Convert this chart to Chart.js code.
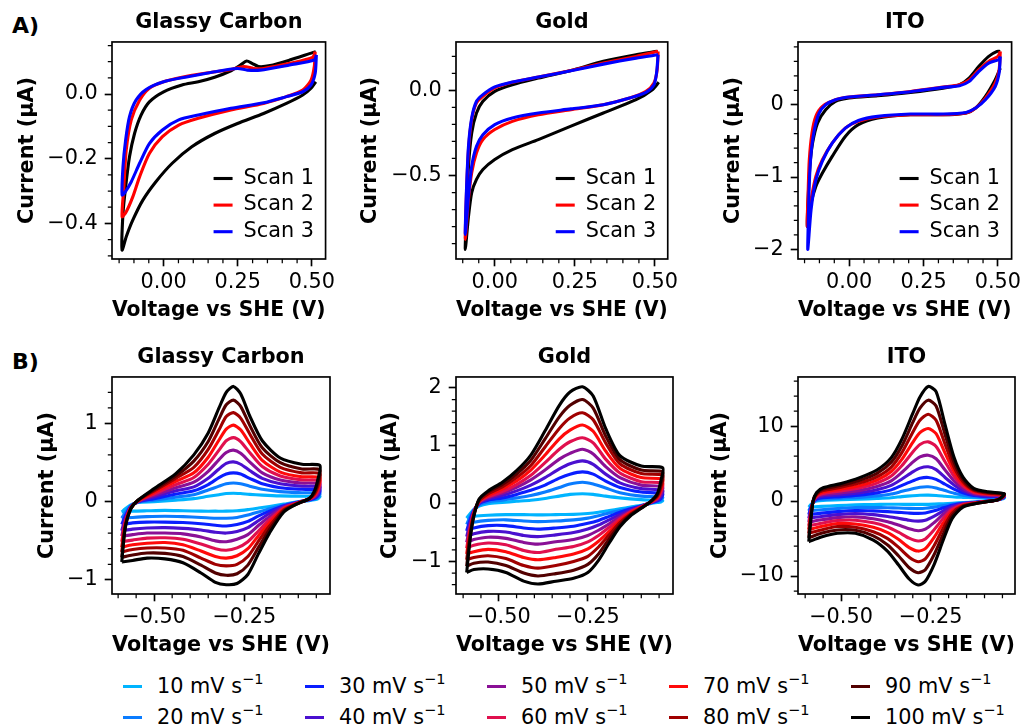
<!DOCTYPE html>
<html>
<head>
<meta charset="utf-8">
<script src="https://cdn.jsdelivr.net/npm/chart.js@4.4.1/dist/chart.umd.min.js"></script>
<style>
    body { margin: 0; width: 1025px; height: 726px; overflow: hidden; background: #fff; position: relative; font-family: 'DejaVu Sans', sans-serif; }
    canvas { position: absolute; }
    .panel-tag { position: absolute; left: 12px; font: bold 22px 'DejaVu Sans'; line-height: 22px; }
    .rate-handle { position: absolute; width: 19px; height: 3px; }
    .rate-text { position: absolute; font-size: 20.8px; line-height: 20px; white-space: nowrap; color: #000; }
    .rate-text sup { font-size: 14.5px; line-height: 0; vertical-align: 9px; }
</style>
</head>
<body>
<div class="panel-tag" style="top:15px">A)</div>
<div class="panel-tag" style="top:351px">B)</div>
<script>
// ---- Row A: three consecutive scans ----
const SCAN_LABELS = ['Scan 1', 'Scan 2', 'Scan 3'];
const SCAN_COLORS = ['#000000', '#ff0000', '#0000ff'];

// Glassy carbon
const gcScan1V = [0.513, 0.497, 0.469, 0.414, 0.337, 0.249, 0.172, 0.095, 0.029, -0.026, -0.070, -0.104, -0.126, -0.140, -0.137, -0.128, -0.115, -0.098, -0.076, -0.048, 0.0, 0.062, 0.117, 0.172, 0.227, 0.260, 0.280, 0.298, 0.320, 0.359, 0.425, 0.502, 0.513];
const gcScan1I = [0.038, 0.018, -0.003, -0.029, -0.060, -0.091, -0.122, -0.163, -0.214, -0.271, -0.328, -0.390, -0.441, -0.482, -0.369, -0.287, -0.194, -0.122, -0.065, -0.024, 0.007, 0.028, 0.038, 0.052, 0.072, 0.090, 0.102, 0.095, 0.085, 0.088, 0.105, 0.128, 0.131];
const gcScan2V = [0.511, 0.508, 0.497, 0.469, 0.414, 0.337, 0.227, 0.117, 0.051, -0.004, -0.048, -0.081, -0.104, -0.126, -0.140, -0.134, -0.126, -0.109, -0.081, -0.048, 0.0, 0.062, 0.139, 0.227, 0.271, 0.304, 0.337, 0.425, 0.502, 0.511];
const gcScan2I = [0.131, 0.085, 0.043, 0.012, -0.008, -0.029, -0.049, -0.075, -0.096, -0.132, -0.184, -0.256, -0.318, -0.364, -0.379, -0.287, -0.173, -0.080, -0.019, 0.018, 0.038, 0.052, 0.064, 0.076, 0.085, 0.079, 0.079, 0.095, 0.113, 0.131];
const gcScan3V = [0.515, 0.511, 0.497, 0.469, 0.414, 0.337, 0.227, 0.117, 0.051, -0.004, -0.048, -0.081, -0.109, -0.131, -0.140, -0.137, -0.128, -0.115, -0.093, -0.059, 0.0, 0.073, 0.172, 0.249, 0.282, 0.326, 0.425, 0.508, 0.515];
const gcScan3I = [0.121, 0.064, 0.028, 0.007, -0.008, -0.027, -0.044, -0.065, -0.080, -0.111, -0.153, -0.214, -0.271, -0.305, -0.312, -0.225, -0.142, -0.070, -0.019, 0.014, 0.038, 0.052, 0.069, 0.079, 0.074, 0.074, 0.090, 0.105, 0.121];

// Gold
const auScan1V = [0.512, 0.492, 0.441, 0.339, 0.238, 0.136, 0.055, 0.0, -0.037, -0.057, -0.072, -0.082, -0.092, -0.089, -0.082, -0.072, -0.057, -0.037, 0.0, 0.055, 0.136, 0.238, 0.339, 0.441, 0.507];
const auScan1I = [0.047, 0.004, -0.055, -0.133, -0.210, -0.289, -0.348, -0.406, -0.465, -0.523, -0.600, -0.740, -0.934, -0.740, -0.445, -0.250, -0.133, -0.064, -0.006, 0.033, 0.072, 0.117, 0.170, 0.209, 0.229];
const auScan2V = [0.510, 0.507, 0.497, 0.472, 0.421, 0.339, 0.238, 0.136, 0.055, 0.0, -0.037, -0.057, -0.072, -0.082, -0.092, -0.089, -0.082, -0.072, -0.057, -0.037, 0.0, 0.055, 0.136, 0.238, 0.339, 0.441, 0.510];
const auScan2I = [0.229, 0.121, 0.043, -0.006, -0.045, -0.084, -0.113, -0.143, -0.182, -0.230, -0.289, -0.367, -0.484, -0.640, -0.875, -0.640, -0.348, -0.172, -0.074, -0.035, 0.014, 0.047, 0.078, 0.117, 0.160, 0.199, 0.229];
const auScan3V = [0.510, 0.505, 0.497, 0.472, 0.421, 0.339, 0.238, 0.136, 0.055, 0.0, -0.037, -0.057, -0.072, -0.082, -0.092, -0.089, -0.082, -0.072, -0.057, -0.037, 0.0, 0.055, 0.136, 0.238, 0.339, 0.441, 0.510];
const auScan3I = [0.209, 0.100, 0.033, -0.012, -0.045, -0.084, -0.109, -0.133, -0.162, -0.201, -0.260, -0.328, -0.445, -0.620, -0.846, -0.620, -0.328, -0.162, -0.064, -0.025, 0.020, 0.049, 0.078, 0.115, 0.154, 0.189, 0.209];

// ITO
const itoScan1V = [0.508, 0.491, 0.458, 0.425, 0.393, 0.338, 0.206, 0.096, 0.031, -0.013, -0.057, -0.090, -0.112, -0.128, -0.141, -0.138, -0.132, -0.123, -0.106, -0.079, -0.046, 0.0, 0.096, 0.206, 0.316, 0.371, 0.404, 0.436, 0.469, 0.497, 0.508];
const itoScan1I = [0.507, 0.346, 0.115, -0.046, -0.115, -0.138, -0.138, -0.184, -0.276, -0.438, -0.714, -0.945, -1.130, -1.360, -1.680, -1.310, -0.850, -0.530, -0.250, -0.070, 0.046, 0.092, 0.124, 0.170, 0.230, 0.276, 0.370, 0.530, 0.668, 0.737, 0.737];
const itoScan2V = [0.508, 0.504, 0.491, 0.458, 0.425, 0.393, 0.316, 0.206, 0.096, 0.031, -0.013, -0.057, -0.090, -0.112, -0.128, -0.141, -0.138, -0.134, -0.125, -0.112, -0.090, -0.046, 0.0, 0.096, 0.206, 0.316, 0.371, 0.404, 0.436, 0.469, 0.500, 0.508];
const itoScan2I = [0.737, 0.484, 0.300, 0.092, -0.046, -0.115, -0.138, -0.138, -0.170, -0.230, -0.323, -0.530, -0.760, -0.990, -1.310, -1.680, -1.220, -0.760, -0.390, -0.160, -0.023, 0.069, 0.106, 0.138, 0.184, 0.244, 0.276, 0.346, 0.484, 0.599, 0.668, 0.737];
const itoScan3V = [0.508, 0.504, 0.491, 0.458, 0.425, 0.393, 0.316, 0.206, 0.096, 0.031, -0.013, -0.057, -0.090, -0.112, -0.128, -0.139, -0.137, -0.134, -0.128, -0.117, -0.101, -0.079, -0.046, 0.0, 0.096, 0.206, 0.316, 0.371, 0.404, 0.436, 0.469, 0.502, 0.508];
const itoScan3I = [0.668, 0.438, 0.253, 0.069, -0.046, -0.106, -0.129, -0.129, -0.161, -0.217, -0.323, -0.530, -0.780, -1.040, -1.450, -2.000, -1.540, -1.080, -0.670, -0.346, -0.115, 0.0, 0.069, 0.106, 0.138, 0.180, 0.240, 0.263, 0.323, 0.461, 0.576, 0.622, 0.668];

// ---- Row B: scan-rate series ----
const RATES = [10, 20, 30, 40, 50, 60, 70, 80, 90, 100];
const RATE_COLORS = ['#00b4ff', '#0a7cff', '#0a1eff', '#4a10d0', '#8a1096', '#e0104e', '#ff0a0a', '#a00000', '#520000', '#000000'];

// Glassy carbon: forward sweep (left to right) then reverse sweep (right to left)
const gcLoopV = [-0.59, -0.58, -0.565, -0.545, -0.50, -0.44, -0.39, -0.35, -0.32, -0.30, -0.28, -0.26, -0.235, -0.20, -0.15, -0.09, -0.04,
                 -0.045, -0.055, -0.07, -0.10, -0.14, -0.18, -0.21, -0.24, -0.27, -0.30, -0.33, -0.37, -0.42, -0.47, -0.52, -0.56, -0.59];
const gc10 = [-0.13, -0.09, -0.04, -0.01, 0.0, 0.02, 0.04, 0.07, 0.09, 0.105, 0.11, 0.105, 0.095, 0.085, 0.075, 0.07, 0.07, 0.04, 0.025, 0.015, 0.0, -0.03, -0.06, -0.08, -0.10, -0.115, -0.12, -0.12, -0.12, -0.115, -0.11, -0.115, -0.12, -0.13];
const gc20 = [-0.21, -0.14, -0.05, -0.005, 0.02, 0.06, 0.09, 0.15, 0.20, 0.23, 0.24, 0.23, 0.20, 0.16, 0.13, 0.115, 0.11, 0.06, 0.035, 0.02, 0.0, -0.04, -0.09, -0.13, -0.17, -0.20, -0.21, -0.21, -0.20, -0.19, -0.185, -0.19, -0.20, -0.21];
const gc30 = [-0.29, -0.18, -0.06, 0.0, 0.04, 0.10, 0.14, 0.22, 0.31, 0.355, 0.37, 0.355, 0.30, 0.23, 0.18, 0.16, 0.15, 0.08, 0.045, 0.025, -0.005, -0.05, -0.12, -0.18, -0.25, -0.29, -0.31, -0.30, -0.28, -0.265, -0.26, -0.26, -0.27, -0.29];
const gc40 = [-0.37, -0.21, -0.065, 0.0, 0.06, 0.14, 0.19, 0.30, 0.42, 0.49, 0.51, 0.48, 0.40, 0.30, 0.23, 0.20, 0.19, 0.10, 0.055, 0.03, -0.005, -0.06, -0.15, -0.24, -0.33, -0.38, -0.40, -0.39, -0.36, -0.34, -0.33, -0.335, -0.35, -0.37];
const gc50 = [-0.44, -0.24, -0.07, 0.005, 0.08, 0.18, 0.25, 0.39, 0.54, 0.63, 0.66, 0.62, 0.51, 0.37, 0.28, 0.24, 0.23, 0.12, 0.065, 0.03, -0.01, -0.07, -0.19, -0.30, -0.42, -0.48, -0.51, -0.50, -0.45, -0.41, -0.40, -0.40, -0.42, -0.44];
const gc60 = [-0.51, -0.26, -0.075, 0.01, 0.10, 0.22, 0.31, 0.48, 0.66, 0.78, 0.82, 0.77, 0.63, 0.45, 0.33, 0.28, 0.27, 0.15, 0.075, 0.035, -0.01, -0.08, -0.23, -0.37, -0.51, -0.59, -0.62, -0.60, -0.54, -0.48, -0.46, -0.465, -0.49, -0.51];
const gc70 = [-0.58, -0.28, -0.08, 0.01, 0.12, 0.26, 0.37, 0.57, 0.79, 0.93, 0.98, 0.92, 0.75, 0.53, 0.38, 0.32, 0.31, 0.18, 0.085, 0.035, -0.015, -0.09, -0.27, -0.43, -0.60, -0.69, -0.72, -0.70, -0.63, -0.55, -0.52, -0.53, -0.55, -0.58];
const gc80 = [-0.64, -0.30, -0.085, 0.015, 0.14, 0.30, 0.44, 0.67, 0.92, 1.09, 1.14, 1.07, 0.87, 0.61, 0.44, 0.37, 0.36, 0.21, 0.10, 0.04, -0.015, -0.10, -0.31, -0.50, -0.70, -0.80, -0.82, -0.80, -0.72, -0.62, -0.59, -0.59, -0.61, -0.64];
const gc90 = [-0.71, -0.31, -0.09, 0.02, 0.155, 0.33, 0.52, 0.77, 1.06, 1.24, 1.30, 1.22, 0.98, 0.69, 0.50, 0.42, 0.41, 0.25, 0.12, 0.04, -0.02, -0.115, -0.355, -0.58, -0.81, -0.92, -0.94, -0.91, -0.81, -0.70, -0.66, -0.655, -0.68, -0.71];
const gc100 = [-0.77, -0.33, -0.09, 0.02, 0.17, 0.36, 0.60, 0.88, 1.20, 1.40, 1.475, 1.38, 1.10, 0.78, 0.56, 0.48, 0.465, 0.30, 0.14, 0.04, -0.02, -0.13, -0.40, -0.66, -0.93, -1.045, -1.06, -1.03, -0.91, -0.78, -0.73, -0.72, -0.75, -0.77];

// Gold
const auLoopV = [-0.59, -0.58, -0.57, -0.555, -0.53, -0.49, -0.45, -0.41, -0.37, -0.33, -0.30, -0.265, -0.235, -0.20, -0.16, -0.10, -0.04,
                 -0.045, -0.055, -0.075, -0.10, -0.13, -0.16, -0.19, -0.22, -0.25, -0.29, -0.34, -0.39, -0.43, -0.48, -0.53, -0.57, -0.59];
const au10 = [-0.25, -0.17, -0.10, -0.04, 0.0, 0.02, 0.04, 0.06, 0.09, 0.13, 0.16, 0.17, 0.16, 0.13, 0.10, 0.07, 0.05, 0.03, 0.02, 0.0, -0.03, -0.06, -0.09, -0.12, -0.15, -0.17, -0.185, -0.19, -0.195, -0.19, -0.19, -0.20, -0.22, -0.25];
const au20 = [-0.36, -0.22, -0.11, -0.02, 0.03, 0.06, 0.10, 0.14, 0.20, 0.28, 0.34, 0.37, 0.34, 0.27, 0.19, 0.13, 0.11, 0.06, 0.04, 0.01, -0.035, -0.08, -0.12, -0.16, -0.21, -0.25, -0.28, -0.30, -0.31, -0.30, -0.28, -0.29, -0.32, -0.36];
const au30 = [-0.47, -0.27, -0.12, 0.0, 0.06, 0.10, 0.16, 0.23, 0.32, 0.44, 0.51, 0.55, 0.51, 0.39, 0.28, 0.20, 0.17, 0.09, 0.05, 0.01, -0.04, -0.09, -0.15, -0.22, -0.29, -0.34, -0.39, -0.42, -0.44, -0.42, -0.38, -0.38, -0.42, -0.47];
const au40 = [-0.57, -0.32, -0.13, 0.01, 0.08, 0.14, 0.22, 0.32, 0.45, 0.60, 0.69, 0.74, 0.68, 0.51, 0.36, 0.26, 0.23, 0.12, 0.06, 0.015, -0.045, -0.11, -0.19, -0.28, -0.37, -0.44, -0.50, -0.54, -0.57, -0.55, -0.49, -0.48, -0.52, -0.57];
const au50 = [-0.67, -0.37, -0.14, 0.02, 0.10, 0.18, 0.28, 0.41, 0.58, 0.77, 0.87, 0.94, 0.86, 0.64, 0.45, 0.32, 0.29, 0.16, 0.08, 0.02, -0.05, -0.13, -0.23, -0.35, -0.46, -0.55, -0.62, -0.66, -0.70, -0.67, -0.60, -0.58, -0.62, -0.67];
const au60 = [-0.77, -0.41, -0.16, 0.03, 0.12, 0.21, 0.33, 0.49, 0.71, 0.94, 1.07, 1.14, 1.05, 0.77, 0.53, 0.38, 0.35, 0.20, 0.09, 0.02, -0.055, -0.14, -0.26, -0.41, -0.55, -0.66, -0.74, -0.79, -0.845, -0.81, -0.71, -0.68, -0.72, -0.77];
const au70 = [-0.87, -0.46, -0.17, 0.04, 0.14, 0.25, 0.39, 0.58, 0.84, 1.12, 1.27, 1.36, 1.25, 0.91, 0.61, 0.45, 0.42, 0.24, 0.11, 0.02, -0.06, -0.16, -0.30, -0.48, -0.65, -0.78, -0.87, -0.93, -0.97, -0.93, -0.83, -0.79, -0.83, -0.87];
const au80 = [-0.97, -0.51, -0.19, 0.05, 0.17, 0.29, 0.45, 0.66, 0.98, 1.30, 1.48, 1.57, 1.45, 1.05, 0.69, 0.52, 0.49, 0.29, 0.13, 0.025, -0.07, -0.18, -0.33, -0.54, -0.75, -0.91, -1.00, -1.07, -1.115, -1.07, -0.95, -0.90, -0.93, -0.97];
const au90 = [-1.08, -0.55, -0.20, 0.07, 0.20, 0.33, 0.51, 0.75, 1.12, 1.50, 1.70, 1.80, 1.65, 1.17, 0.76, 0.58, 0.55, 0.34, 0.15, 0.03, -0.075, -0.19, -0.37, -0.61, -0.87, -1.05, -1.15, -1.21, -1.25, -1.20, -1.07, -1.01, -1.03, -1.08];
const au100 = [-1.19, -0.60, -0.22, 0.08, 0.22, 0.37, 0.57, 0.84, 1.26, 1.70, 1.93, 2.02, 1.86, 1.30, 0.83, 0.65, 0.62, 0.40, 0.17, 0.03, -0.08, -0.21, -0.40, -0.68, -0.98, -1.19, -1.29, -1.34, -1.39, -1.34, -1.19, -1.13, -1.14, -1.19];

// ITO
const itoLoopV = [-0.59, -0.585, -0.578, -0.568, -0.55, -0.50, -0.45, -0.40, -0.36, -0.33, -0.30, -0.28, -0.257, -0.235, -0.21, -0.185, -0.16, -0.13, -0.09, -0.045,
                  -0.05, -0.065, -0.09, -0.12, -0.16, -0.19, -0.215, -0.24, -0.265, -0.285, -0.31, -0.34, -0.37, -0.41, -0.46, -0.51, -0.555, -0.59];
const ito10 = [-0.8, -0.5, -0.2, 0.0, 0.1, 0.2, 0.25, 0.35, 0.45, 0.6, 0.72, 0.78, 0.8, 0.75, 0.65, 0.55, 0.5, 0.45, 0.4, 0.4, 0.3, 0.15, 0.0, -0.1, -0.2, -0.28, -0.35, -0.4, -0.44, -0.44, -0.44, -0.43, -0.43, -0.45, -0.5, -0.6, -0.7, -0.8];
const ito20 = [-1.3, -0.8, -0.2, 0.1, 0.25, 0.4, 0.5, 0.7, 0.95, 1.3, 1.65, 1.85, 1.91, 1.75, 1.4, 1.05, 0.8, 0.6, 0.5, 0.5, 0.35, 0.15, 0.0, -0.12, -0.25, -0.4, -0.6, -0.8, -0.95, -0.98, -0.97, -0.92, -0.88, -0.85, -0.85, -1.0, -1.15, -1.3];
const ito30 = [-1.8, -1.0, -0.2, 0.25, 0.45, 0.6, 0.8, 1.1, 1.5, 2.1, 2.7, 3.05, 3.16, 2.9, 2.25, 1.6, 1.1, 0.75, 0.6, 0.6, 0.4, 0.15, 0.0, -0.14, -0.3, -0.55, -0.9, -1.3, -1.58, -1.64, -1.6, -1.5, -1.4, -1.3, -1.25, -1.4, -1.6, -1.8];
const ito40 = [-2.3, -1.3, -0.15, 0.4, 0.65, 0.85, 1.1, 1.5, 2.1, 2.95, 3.9, 4.4, 4.58, 4.2, 3.15, 2.15, 1.4, 0.9, 0.7, 0.65, 0.4, 0.15, 0.0, -0.16, -0.35, -0.72, -1.3, -2.0, -2.55, -2.67, -2.55, -2.3, -2.05, -1.8, -1.65, -1.8, -2.05, -2.3];
const ito50 = [-2.8, -1.5, -0.1, 0.55, 0.85, 1.1, 1.4, 1.95, 2.7, 3.85, 5.2, 5.9, 6.13, 5.65, 4.15, 2.7, 1.7, 1.0, 0.8, 0.7, 0.45, 0.15, -0.02, -0.18, -0.4, -0.9, -1.75, -2.85, -3.75, -3.96, -3.7, -3.2, -2.75, -2.35, -2.1, -2.2, -2.5, -2.8];
const ito60 = [-3.3, -1.8, -0.1, 0.65, 1.0, 1.35, 1.75, 2.4, 3.35, 4.75, 6.55, 7.55, 7.91, 7.3, 5.25, 3.3, 2.0, 1.15, 0.9, 0.8, 0.5, 0.15, -0.03, -0.2, -0.48, -1.1, -2.3, -3.8, -5.05, -5.33, -4.95, -4.15, -3.45, -2.9, -2.55, -2.6, -2.95, -3.3];
const ito70 = [-3.8, -2.0, -0.05, 0.8, 1.2, 1.6, 2.05, 2.8, 3.95, 5.6, 7.85, 9.15, 9.69, 9.0, 6.4, 3.95, 2.3, 1.3, 1.0, 0.85, 0.5, 0.15, -0.03, -0.22, -0.55, -1.35, -2.9, -4.8, -6.35, -6.67, -6.2, -5.1, -4.2, -3.5, -3.05, -3.0, -3.4, -3.8];
const ito80 = [-4.3, -2.3, 0.0, 0.9, 1.4, 1.85, 2.4, 3.25, 4.55, 6.5, 9.2, 10.8, 11.6, 10.8, 7.6, 4.55, 2.6, 1.45, 1.05, 0.9, 0.55, 0.15, -0.04, -0.25, -0.62, -1.6, -3.6, -5.9, -7.7, -8.09, -7.5, -6.15, -5.0, -4.1, -3.5, -3.4, -3.85, -4.3];
const ito90 = [-4.9, -2.6, 0.0, 1.0, 1.6, 2.1, 2.75, 3.7, 5.2, 7.4, 10.5, 12.4, 13.47, 12.7, 8.9, 5.2, 2.9, 1.55, 1.15, 0.95, 0.55, 0.15, -0.05, -0.28, -0.7, -1.95, -4.4, -7.1, -9.15, -9.56, -8.9, -7.3, -5.85, -4.65, -3.9, -3.85, -4.3, -4.9];
const ito100 = [-5.42, -2.9, 0.0, 1.15, 1.78, 2.36, 3.1, 4.15, 5.8, 8.3, 11.7, 13.9, 15.3, 14.6, 10.2, 5.85, 3.2, 1.7, 1.24, 1.0, 0.6, 0.13, -0.05, -0.3, -0.8, -2.3, -5.2, -8.4, -10.7, -11.2, -10.4, -8.5, -6.7, -5.2, -4.3, -4.3, -4.8, -5.42];

// axis ticks
const rowATicksV = [0, 0.25, 0.5];
const rowBTicksV = [-0.5, -0.25];
const gcScanTicksI = [-0.4, -0.2, 0.0];
const auScanTicksI = [-0.5, 0.0];
const itoScanTicksI = [-2, -1, 0];
const gcRateTicksI = [-1, 0, 1];
const auRateTicksI = [-1, 0, 1, 2];
const itoRateTicksI = [-10, 0, 10];

const FONT_PX = 20.8;
Chart.defaults.font.family = "'DejaVu Sans', sans-serif";
Chart.defaults.font.size = FONT_PX;
Chart.defaults.color = '#000';

const PLOT_H = 217;
const AXIS_W = 100;
const TITLE_H = 42;
const XAXIS_H = 70;
const RIGHT_PAD = 10;

function signed(v, digits) {
    const s = Math.abs(v).toFixed(digits);
    return v < -1e-9 ? '\u2212' + s : s;
}

function pts(vs, is) {
    return vs.map((v, k) => ({ x: v, y: is[k] }));
}

// frame around the plot + minor tick marks
const frameAndMinor = {
    id: 'frameAndMinor',
    afterDatasetsDraw(chart, args, opts) {
        const { ctx, chartArea: a, scales } = chart;
        ctx.save();
        ctx.strokeStyle = '#000';
        ctx.lineWidth = 1.25;
        ctx.beginPath();
        const xs = scales.x, ys = scales.y;
        for (let k = Math.ceil(xs.min / opts.xMinor); k * opts.xMinor <= xs.max; k++) {
            const v = k * opts.xMinor;
            if (opts.xMajor.some(m => Math.abs(m - v) < 1e-6)) continue;
            const px = xs.getPixelForValue(v);
            ctx.moveTo(px, a.bottom);
            ctx.lineTo(px, a.bottom + 4.2);
        }
        for (let k = Math.ceil(ys.min / opts.yMinor); k * opts.yMinor <= ys.max; k++) {
            const v = k * opts.yMinor;
            if (opts.yMajor.some(m => Math.abs(m - v) < 1e-6)) continue;
            const py = ys.getPixelForValue(v);
            ctx.moveTo(a.left - 4.2, py);
            ctx.lineTo(a.left, py);
        }
        ctx.stroke();
        ctx.lineWidth = 1.67;
        ctx.strokeRect(a.left, a.top, a.right - a.left, a.bottom - a.top);
        ctx.restore();
    }
};

// "Scan n" key inside the lower right corner
const scanKey = {
    id: 'scanKey',
    afterDatasetsDraw(chart, args, opts) {
        if (!opts.show) return;
        const { ctx, chartArea: a } = chart;
        ctx.save();
        ctx.font = FONT_PX + "px 'DejaVu Sans'";
        ctx.textBaseline = 'middle';
        chart.data.datasets.forEach((ds, k) => {
            const y = a.bottom - 80.5 + k * 26.6;
            ctx.strokeStyle = ds.borderColor;
            ctx.lineWidth = 3.1;
            ctx.beginPath();
            ctx.moveTo(a.right - 112, y);
            ctx.lineTo(a.right - 93, y);
            ctx.stroke();
            ctx.fillStyle = '#000';
            ctx.fillText(ds.label, a.right - 82, y);
        });
        ctx.restore();
    }
};

function buildPanel(p) {
    const cv = document.createElement('canvas');
    cv.width = AXIS_W + p.width + RIGHT_PAD;
    cv.height = TITLE_H + PLOT_H + XAXIS_H;
    cv.style.left = (p.left - AXIS_W) + 'px';
    cv.style.top = (p.top - TITLE_H) + 'px';
    document.body.appendChild(cv);

    const boldFont = { size: FONT_PX, weight: 'bold', lineHeight: 1.2 };
    const tickMarks = { drawOnChartArea: false, drawTicks: true, tickLength: 7.3, tickWidth: 1.67, tickColor: '#000' };

    return new Chart(cv, {
        type: 'scatter',
        data: { datasets: p.datasets },
        options: {
            responsive: false,
            animation: false,
            events: [],
            layout: { padding: { left: 0, right: RIGHT_PAD, top: 0, bottom: 0 } },
            plugins: {
                legend: { display: false },
                tooltip: { enabled: false },
                title: {
                    display: true,
                    fullSize: false,
                    text: p.title,
                    color: '#000',
                    font: boldFont,
                    padding: { top: 10, bottom: 7 }
                },
                frameAndMinor: { xMinor: p.xMinor, yMinor: p.yMinor, xMajor: p.xTicks, yMajor: p.yTicks },
                scanKey: { show: !!p.showKey }
            },
            scales: {
                x: {
                    type: 'linear',
                    position: 'bottom',
                    min: p.xMin,
                    max: p.xMax,
                    afterBuildTicks: s => { s.ticks = p.xTicks.map(v => ({ value: v })); },
                    afterFit: s => { s.height = XAXIS_H; },
                    ticks: { callback: v => signed(v, p.xDigits), padding: 4, maxRotation: 0, autoSkip: false, color: '#000' },
                    grid: tickMarks,
                    border: { display: false },
                    title: {
                        display: true,
                        text: 'Voltage vs SHE (V)',
                        color: '#000',
                        font: boldFont,
                        padding: { top: 0, bottom: 6 }
                    }
                },
                y: {
                    type: 'linear',
                    position: 'left',
                    min: p.yMin,
                    max: p.yMax,
                    afterBuildTicks: s => { s.ticks = p.yTicks.map(v => ({ value: v })); },
                    afterFit: s => { s.width = AXIS_W; },
                    ticks: { callback: v => signed(v, p.yDigits), padding: 7, autoSkip: false, color: '#000' },
                    grid: tickMarks,
                    border: { display: false },
                    title: {
                        display: true,
                        text: 'Current (\u03bcA)',
                        color: '#000',
                        font: boldFont,
                        padding: { top: p.yTitlePad, bottom: 0 }
                    }
                }
            }
        },
        plugins: [frameAndMinor, scanKey]
    });
}

function scanSets(vs, is) {
    // scan 3 drawn on top, scan 1 at the bottom
    return vs.map((v, k) => ({
        label: SCAN_LABELS[k],
        data: pts(v, is[k]),
        borderColor: SCAN_COLORS[k],
        showLine: true,
        pointRadius: 0,
        borderWidth: 3.1,
        tension: 0.25,
        borderJoinStyle: 'round',
        order: 3 - k
    }));
}

function rateSets(loopV, curves) {
    return curves.map((c, k) => ({
        label: RATES[k] + ' mV s\u207b\u00b9',
        data: pts(loopV, c),
        borderColor: RATE_COLORS[k],
        showLine: true,
        pointRadius: 0,
        borderWidth: 3.1,
        tension: 0.25,
        borderJoinStyle: 'round',
        order: RATES.length - k
    }));
}

buildPanel({
    title: 'Glassy Carbon', left: 112, top: 42, width: 218,
    xMin: -0.174, xMax: 0.546, xTicks: rowATicksV, xDigits: 2, xMinor: 0.05,
    yMin: -0.51, yMax: 0.161, yTicks: gcScanTicksI, yDigits: 1, yMinor: 0.05,
    yTitlePad: 3, showKey: true,
    datasets: scanSets([gcScan1V, gcScan2V, gcScan3V], [gcScan1I, gcScan2I, gcScan3I])
});
buildPanel({
    title: 'Gold', left: 456, top: 42, width: 217,
    xMin: -0.121, xMax: 0.540, xTicks: rowATicksV, xDigits: 2, xMinor: 0.05,
    yMin: -0.99, yMax: 0.284, yTicks: auScanTicksI, yDigits: 1, yMinor: 0.1,
    yTitlePad: 2, showKey: true,
    datasets: scanSets([auScan1V, auScan2V, auScan3V], [auScan1I, auScan2I, auScan3I])
});
buildPanel({
    title: 'ITO', left: 798, top: 42, width: 218,
    xMin: -0.172, xMax: 0.546, xTicks: rowATicksV, xDigits: 2, xMinor: 0.05,
    yMin: -2.133, yMax: 0.868, yTicks: itoScanTicksI, yDigits: 0, yMinor: 0.2,
    yTitlePad: 23, showKey: true,
    datasets: scanSets([itoScan1V, itoScan2V, itoScan3V], [itoScan1I, itoScan2I, itoScan3I])
});

buildPanel({
    title: 'Glassy Carbon', left: 112, top: 377, width: 218,
    xMin: -0.617, xMax: -0.012, xTicks: rowBTicksV, xDigits: 2, xMinor: 0.05,
    yMin: -1.179, yMax: 1.596, yTicks: gcRateTicksI, yDigits: 0, yMinor: 0.2,
    yTitlePad: 23,
    datasets: rateSets(gcLoopV, [gc10, gc20, gc30, gc40, gc50, gc60, gc70, gc80, gc90, gc100])
});
buildPanel({
    title: 'Gold', left: 456, top: 377, width: 217,
    xMin: -0.62, xMax: -0.011, xTicks: rowBTicksV, xDigits: 2, xMinor: 0.05,
    yMin: -1.562, yMax: 2.19, yTicks: auRateTicksI, yDigits: 0, yMinor: 0.2,
    yTitlePad: 22,
    datasets: rateSets(auLoopV, [au10, au20, au30, au40, au50, au60, au70, au80, au90, au100])
});
buildPanel({
    title: 'ITO', left: 798, top: 377, width: 217,
    xMin: -0.62, xMax: -0.015, xTicks: rowBTicksV, xDigits: 2, xMinor: 0.05,
    yMin: -12.4, yMax: 16.57, yTicks: itoRateTicksI, yDigits: 0, yMinor: 2,
    yTitlePad: 10,
    datasets: rateSets(itoLoopV, [ito10, ito20, ito30, ito40, ito50, ito60, ito70, ito80, ito90, ito100])
});

// shared scan-rate legend, 5 columns x 2 rows, filled column by column
const KEY_COL_X = [123, 305, 487, 669, 851];
const KEY_ROW_Y = [686, 717];
RATES.forEach((r, k) => {
    const x = KEY_COL_X[Math.floor(k / 2)];
    const y = KEY_ROW_Y[k % 2];
    const h = document.createElement('div');
    h.className = 'rate-handle';
    h.style.left = x + 'px';
    h.style.top = (y - 1.5) + 'px';
    h.style.background = RATE_COLORS[k];
    document.body.appendChild(h);
    const t = document.createElement('div');
    t.className = 'rate-text';
    t.style.left = (x + 34) + 'px';
    t.style.top = (y - 10) + 'px';
    t.innerHTML = r + ' mV s<sup>\u22121</sup>';
    document.body.appendChild(t);
});
</script>
</body>
</html>
